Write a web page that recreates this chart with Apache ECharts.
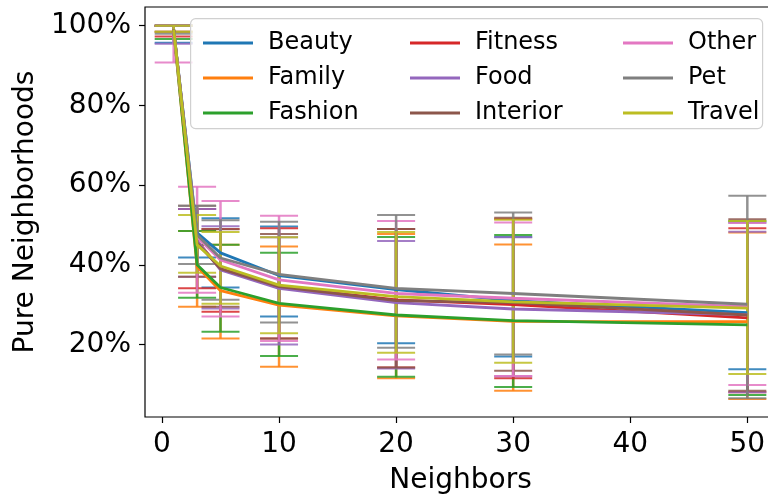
<!DOCTYPE html>
<html>
<head>
<meta charset="utf-8">
<script src="https://cdn.jsdelivr.net/npm/echarts@6/dist/echarts.min.js"></script>
<style>
  html, body { margin: 0; padding: 0; background: #fff; }
  #chart { width: 768px; height: 497px; }
</style>
</head>
<body>
<div id="chart"></div>
<script>
// Neighbour counts on the x axis
const neighbors = [1, 3, 5, 10, 20, 30, 50];
const categories = ['Beauty', 'Family', 'Fashion', 'Fitness', 'Food', 'Interior', 'Other', 'Pet', 'Travel'];
const colors = ['#1f77b4', '#ff7f0e', '#2ca02c', '#d62728', '#9467bd', '#8c564b', '#e377c2', '#7f7f7f', '#bcbd22'];

// Mean share of pure neighbourhoods per category
const beautyMean   = [0.988, 0.480, 0.430, 0.373, 0.338, 0.310, 0.280];
const familyMean   = [0.990, 0.395, 0.335, 0.299, 0.272, 0.258, 0.257];
const fashionMean  = [0.990, 0.400, 0.343, 0.303, 0.274, 0.260, 0.249];
const fitnessMean  = [0.990, 0.460, 0.390, 0.345, 0.312, 0.300, 0.267];
const foodMean     = [0.990, 0.460, 0.387, 0.341, 0.305, 0.289, 0.275];
const interiorMean = [0.990, 0.455, 0.390, 0.345, 0.310, 0.305, 0.274];
const otherMean    = [0.985, 0.470, 0.412, 0.362, 0.328, 0.316, 0.295];
const petMean      = [0.990, 0.475, 0.417, 0.376, 0.341, 0.328, 0.301];
const travelMean   = [0.990, 0.450, 0.397, 0.349, 0.320, 0.307, 0.291];

// Lower ends of the error bars
const beautyLow   = [0.957, 0.418, 0.343, 0.270, 0.203, 0.170, 0.138];
const familyLow   = [0.985, 0.295, 0.215, 0.144, 0.115, 0.084, 0.063];
const fashionLow  = [0.967, 0.317, 0.232, 0.171, 0.119, 0.093, 0.073];
const fitnessLow  = [0.973, 0.341, 0.282, 0.215, 0.142, 0.115, 0.080];
const foodLow     = [0.955, 0.370, 0.290, 0.200, 0.140, 0.120, 0.080];
const interiorLow = [0.985, 0.370, 0.295, 0.215, 0.142, 0.134, 0.084];
const otherLow    = [0.908, 0.330, 0.270, 0.209, 0.162, 0.121, 0.098];
const petLow      = [0.980, 0.402, 0.312, 0.255, 0.192, 0.175, 0.065];
const travelLow   = [0.985, 0.380, 0.302, 0.228, 0.179, 0.154, 0.126];

// Upper ends of the error bars
const beautyHigh   = [1.000, 0.540, 0.517, 0.496, 0.490, 0.470, 0.506];
const familyHigh   = [1.000, 0.485, 0.450, 0.446, 0.477, 0.451, 0.481];
const fashionHigh  = [1.000, 0.485, 0.450, 0.430, 0.470, 0.475, 0.510];
const fitnessHigh  = [1.000, 0.540, 0.490, 0.492, 0.490, 0.515, 0.492];
const foodHigh     = [1.000, 0.540, 0.497, 0.469, 0.460, 0.469, 0.483];
const interiorHigh = [1.000, 0.548, 0.489, 0.477, 0.490, 0.518, 0.514];
const otherHigh    = [1.000, 0.596, 0.560, 0.523, 0.510, 0.506, 0.505];
const petHigh      = [1.000, 0.548, 0.512, 0.508, 0.525, 0.531, 0.573];
const travelHigh   = [1.000, 0.525, 0.482, 0.469, 0.482, 0.513, 0.510];

const xTicks = [0, 10, 20, 30, 40, 50];
const yTicks = [0.2, 0.4, 0.6, 0.8, 1.0];

const means = [beautyMean, familyMean, fashionMean, fitnessMean, foodMean, interiorMean, otherMean, petMean, travelMean];
const lows  = [beautyLow, familyLow, fashionLow, fitnessLow, foodLow, interiorLow, otherLow, petLow, travelLow];
const highs = [beautyHigh, familyHigh, fashionHigh, fitnessHigh, foodHigh, interiorHigh, otherHigh, petHigh, travelHigh];

const FONT = 'DejaVu Sans';
const CAP = 19;

function errorBarRenderer(color) {
  return function (params, api) {
    const x = api.value(0);
    const lo = api.coord([x, api.value(1)]);
    const hi = api.coord([x, api.value(2)]);
    const style = { stroke: color, lineWidth: 2.5, opacity: 0.85 };
    return {
      type: 'group',
      children: [
        { type: 'line', shape: { x1: lo[0], y1: lo[1], x2: hi[0], y2: hi[1] }, style: style },
        { type: 'line', shape: { x1: lo[0] - CAP, y1: lo[1], x2: lo[0] + CAP, y2: lo[1] }, style: Object.assign({}, style, { lineWidth: 2 }) },
        { type: 'line', shape: { x1: hi[0] - CAP, y1: hi[1], x2: hi[0] + CAP, y2: hi[1] }, style: Object.assign({}, style, { lineWidth: 2 }) }
      ]
    };
  };
}

const series = [];
categories.forEach(function (name, i) {
  series.push({
    type: 'custom',
    name: name + ' range',
    renderItem: errorBarRenderer(colors[i]),
    data: neighbors.map(function (n, j) { return [n, lows[i][j], highs[i][j]]; }),
    encode: { x: 0, y: [1, 2] },
    silent: true,
    z: 2
  });
  series.push({
    type: 'line',
    name: name,
    data: neighbors.map(function (n, j) { return [n, means[i][j]]; }),
    color: colors[i],
    symbol: 'none',
    lineStyle: { width: 2.8, color: colors[i] },
    z: 2
  });
});

function legendColumn(names, left) {
  return {
    orient: 'vertical',
    left: left,
    top: 26,
    itemWidth: 50,
    itemHeight: 3,
    itemGap: 11,
    icon: 'rect',
    data: names,
    selectedMode: false,
    textStyle: { fontFamily: FONT, fontSize: 24, color: '#000', padding: [0, 0, 0, 10] },
    z: 6
  };
}

const chart = echarts.init(document.getElementById('chart'), null, { renderer: 'canvas' });
chart.setOption({
  animation: false,
  backgroundColor: '#fff',
  grid: {
    left: 145, top: 7, right: -8, bottom: 80,
    outerBoundsMode: 'none',
    show: true, borderColor: '#000', borderWidth: 1.2, backgroundColor: 'transparent'
  },
  xAxis: {
    type: 'value',
    min: -1.45,
    max: 52.45,
    name: 'Neighbors',
    nameLocation: 'middle',
    nameGap: 50,
    nameTextStyle: { fontFamily: FONT, fontSize: 28, color: '#000' },
    axisLine: { show: false, onZero: false },
    axisTick: { show: true, customValues: xTicks, length: 6, lineStyle: { color: '#000', width: 1.2 } },
    axisLabel: { customValues: xTicks, fontFamily: FONT, fontSize: 28, color: '#000', margin: 14 },
    splitLine: { show: false }
  },
  yAxis: {
    type: 'value',
    min: 0.018,
    max: 1.047,
    name: 'Pure Neighborhoods',
    nameLocation: 'middle',
    nameGap: 100,
    nameTextStyle: { fontFamily: FONT, fontSize: 28, color: '#000' },
    axisLine: { show: false, onZero: false },
    axisTick: { show: true, customValues: yTicks, length: 6, lineStyle: { color: '#000', width: 1.2 } },
    axisLabel: {
      customValues: yTicks, fontFamily: FONT, fontSize: 28, color: '#000', margin: 14,
      formatter: function (v) { return Math.round(v * 100) + '%'; }
    },
    splitLine: { show: false }
  },
  graphic: [{
    type: 'rect',
    left: 190, top: 18,
    shape: { width: 572, height: 110, r: 5 },
    style: { fill: 'rgba(255,255,255,0.8)', stroke: '#d0d0d0', lineWidth: 1.2 },
    z: 5
  }],
  legend: [
    legendColumn(['Beauty', 'Family', 'Fashion'], 198),
    legendColumn(['Fitness', 'Food', 'Interior'], 405),
    legendColumn(['Other', 'Pet', 'Travel'], 618)
  ],
  series: series
});
</script>
</body>
</html>
